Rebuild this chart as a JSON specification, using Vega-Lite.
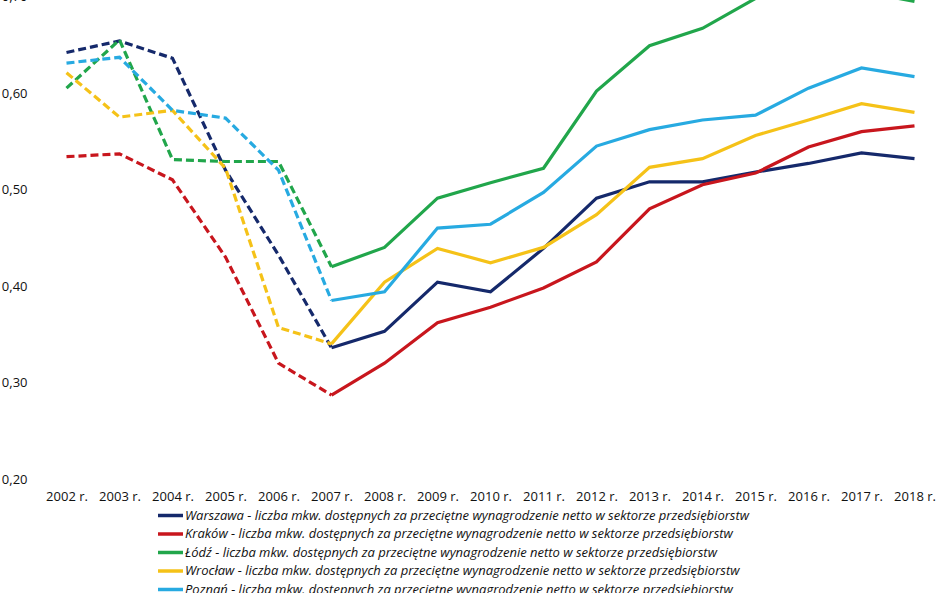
{
  "$schema": "https://vega.github.io/schema/vega-lite/v6.json",
  "width": 901,
  "height": 482.5,
  "autosize": {"type": "none"},
  "padding": {"left": 40, "top": -3.5, "right": 7, "bottom": 114},
  "background": "white",
  "config": {
    "view": {"stroke": null},
    "font": "Open Sans",
    "axis": {"grid": false, "domain": false, "ticks": false, "labelColor": "#111111", "labelFont": "Open Sans", "labelFontSize": 13, "title": null}
  },
  "data": {"values": [
    {"city": "Warszawa", "year": 2002, "v": 0.642},
    {"city": "Warszawa", "year": 2003, "v": 0.654},
    {"city": "Warszawa", "year": 2004, "v": 0.636},
    {"city": "Warszawa", "year": 2005, "v": 0.52},
    {"city": "Warszawa", "year": 2006, "v": 0.432},
    {"city": "Warszawa", "year": 2007, "v": 0.336},
    {"city": "Warszawa", "year": 2008, "v": 0.353},
    {"city": "Warszawa", "year": 2009, "v": 0.404},
    {"city": "Warszawa", "year": 2010, "v": 0.394},
    {"city": "Warszawa", "year": 2011, "v": 0.439},
    {"city": "Warszawa", "year": 2012, "v": 0.491},
    {"city": "Warszawa", "year": 2013, "v": 0.508},
    {"city": "Warszawa", "year": 2014, "v": 0.508},
    {"city": "Warszawa", "year": 2015, "v": 0.518},
    {"city": "Warszawa", "year": 2016, "v": 0.527},
    {"city": "Warszawa", "year": 2017, "v": 0.538},
    {"city": "Warszawa", "year": 2018, "v": 0.532},
    {"city": "Kraków", "year": 2002, "v": 0.534},
    {"city": "Kraków", "year": 2003, "v": 0.537},
    {"city": "Kraków", "year": 2004, "v": 0.51},
    {"city": "Kraków", "year": 2005, "v": 0.43},
    {"city": "Kraków", "year": 2006, "v": 0.32},
    {"city": "Kraków", "year": 2007, "v": 0.287},
    {"city": "Kraków", "year": 2008, "v": 0.32},
    {"city": "Kraków", "year": 2009, "v": 0.362},
    {"city": "Kraków", "year": 2010, "v": 0.378},
    {"city": "Kraków", "year": 2011, "v": 0.398},
    {"city": "Kraków", "year": 2012, "v": 0.425},
    {"city": "Kraków", "year": 2013, "v": 0.48},
    {"city": "Kraków", "year": 2014, "v": 0.505},
    {"city": "Kraków", "year": 2015, "v": 0.517},
    {"city": "Kraków", "year": 2016, "v": 0.544},
    {"city": "Kraków", "year": 2017, "v": 0.56},
    {"city": "Kraków", "year": 2018, "v": 0.566},
    {"city": "Łódź", "year": 2002, "v": 0.605},
    {"city": "Łódź", "year": 2003, "v": 0.655},
    {"city": "Łódź", "year": 2004, "v": 0.531},
    {"city": "Łódź", "year": 2005, "v": 0.529},
    {"city": "Łódź", "year": 2006, "v": 0.529},
    {"city": "Łódź", "year": 2007, "v": 0.42},
    {"city": "Łódź", "year": 2008, "v": 0.44},
    {"city": "Łódź", "year": 2009, "v": 0.491},
    {"city": "Łódź", "year": 2010, "v": 0.507},
    {"city": "Łódź", "year": 2011, "v": 0.522},
    {"city": "Łódź", "year": 2012, "v": 0.602},
    {"city": "Łódź", "year": 2013, "v": 0.649},
    {"city": "Łódź", "year": 2014, "v": 0.667},
    {"city": "Łódź", "year": 2015, "v": 0.698},
    {"city": "Łódź", "year": 2016, "v": 0.712},
    {"city": "Łódź", "year": 2017, "v": 0.705},
    {"city": "Łódź", "year": 2018, "v": 0.695},
    {"city": "Wrocław", "year": 2002, "v": 0.621},
    {"city": "Wrocław", "year": 2003, "v": 0.575},
    {"city": "Wrocław", "year": 2004, "v": 0.582},
    {"city": "Wrocław", "year": 2005, "v": 0.522},
    {"city": "Wrocław", "year": 2006, "v": 0.357},
    {"city": "Wrocław", "year": 2007, "v": 0.34},
    {"city": "Wrocław", "year": 2008, "v": 0.404},
    {"city": "Wrocław", "year": 2009, "v": 0.439},
    {"city": "Wrocław", "year": 2010, "v": 0.424},
    {"city": "Wrocław", "year": 2011, "v": 0.44},
    {"city": "Wrocław", "year": 2012, "v": 0.474},
    {"city": "Wrocław", "year": 2013, "v": 0.523},
    {"city": "Wrocław", "year": 2014, "v": 0.532},
    {"city": "Wrocław", "year": 2015, "v": 0.556},
    {"city": "Wrocław", "year": 2016, "v": 0.572},
    {"city": "Wrocław", "year": 2017, "v": 0.589},
    {"city": "Wrocław", "year": 2018, "v": 0.58},
    {"city": "Poznań", "year": 2002, "v": 0.631},
    {"city": "Poznań", "year": 2003, "v": 0.637},
    {"city": "Poznań", "year": 2004, "v": 0.582},
    {"city": "Poznań", "year": 2005, "v": 0.574},
    {"city": "Poznań", "year": 2006, "v": 0.52},
    {"city": "Poznań", "year": 2007, "v": 0.385},
    {"city": "Poznań", "year": 2008, "v": 0.394},
    {"city": "Poznań", "year": 2009, "v": 0.46},
    {"city": "Poznań", "year": 2010, "v": 0.464},
    {"city": "Poznań", "year": 2011, "v": 0.497},
    {"city": "Poznań", "year": 2012, "v": 0.545},
    {"city": "Poznań", "year": 2013, "v": 0.562},
    {"city": "Poznań", "year": 2014, "v": 0.572},
    {"city": "Poznań", "year": 2015, "v": 0.577},
    {"city": "Poznań", "year": 2016, "v": 0.605},
    {"city": "Poznań", "year": 2017, "v": 0.626},
    {"city": "Poznań", "year": 2018, "v": 0.617}
  ]},
  "encoding": {
    "x": {"field": "year", "type": "ordinal",
      "axis": {"labelAngle": 0, "labelPadding": 11, "labelExpr": "datum.label + ' r.'"}},
    "y": {"field": "v", "type": "quantitative",
      "scale": {"domain": [0.2, 0.7], "zero": false, "nice": false},
      "axis": {"values": [0.2, 0.3, 0.4, 0.5, 0.6, 0.7], "labelPadding": 13, "labelExpr": "replace(format(datum.value, '.2f'), '.', ',')"}},
    "color": {"field": "city", "type": "nominal",
      "scale": {"domain": ["Warszawa", "Kraków", "Łódź", "Wrocław", "Poznań"],
                "range": ["#15296b", "#c8161d", "#21a64b", "#f5c218", "#27aae1"]},
      "legend": {"orient": "none", "legendX": 120.5, "legendY": 509, "title": null,
        "symbolType": "M-1.56,0H1.56", "symbolSize": 256, "symbolStrokeWidth": 3.5,
        "labelFont": "Open Sans", "labelFontStyle": "italic", "labelFontSize": 13, "labelColor": "#111111",
        "labelOffset": 4.5, "rowPadding": 1.5, "labelLimit": 1000,
        "labelExpr": "datum.label + ' - liczba mkw. dostępnych za przeciętne wynagrodzenie netto w sektorze przedsiębiorstw'"}}
  },
  "layer": [
    {"transform": [{"filter": "datum.year <= 2007"}],
     "mark": {"type": "line", "strokeWidth": 3.2, "strokeDash": [8, 4], "clip": true}},
    {"transform": [{"filter": "datum.year >= 2007"}],
     "mark": {"type": "line", "strokeWidth": 3.2, "clip": true}}
  ]
}
